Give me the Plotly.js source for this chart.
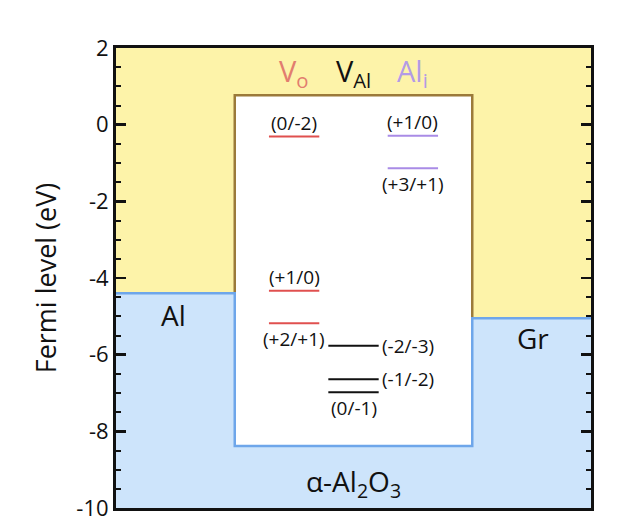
<!DOCTYPE html>
<html><head><meta charset="utf-8">
<script src="https://cdn.plot.ly/plotly-3.0.1.min.js"></script>
<style>html,body{margin:0;padding:0;background:#fff}#chart{width:620px;height:531px}</style>
</head><body><div id="chart"></div>
<script>
// ---- data (eV) ----
const yTickVals = [-10, -8, -6, -4, -2, 0, 2];
const alFermi = -4.40;      // Al metal Fermi level
const grFermi = -5.05;      // graphene Fermi level
const gapTop = 0.77;        // oxide conduction band edge
const gapBottom = -8.38;    // oxide valence band edge
const defectNames = ['V<sub>o</sub>', 'V<sub>Al</sub>', 'Al<sub>i</sub>'];
const voLevels = [-0.31, -4.33, -5.18];
const voLabels = ['(0/-2)', '(+1/0)', '(+2/+1)'];
const valLevels = [-5.77, -6.64, -6.98];
const valLabels = ['(-2/-3)', '(-1/-2)', '(0/-1)'];
const aliLevels = [-0.29, -1.14];
const aliLabels = ['(+1/0)', '(+3/+1)'];

// ---- layout helpers (positions/styles) ----
const X0 = 0, X1 = 10, BOXL = 2.5, BOXR = 7.5;
const colX = [3.75, 5.0, 6.25];
const halfW = 0.53;
const FONT = 'Open Sans, DejaVu Sans, sans-serif';
const defectColors = ['#e0504f', '#111111', '#a98be6'];
const headerColors = ['#e27d6f', '#111111', '#b39be6'];
const placement = [
  ['above', 'above', 'below'],
  ['right', 'right', 'below'],
  ['above', 'below']
];
const allLevels = [voLevels, valLevels, aliLevels];
const allLabels = [voLabels, valLabels, aliLabels];

const traces = [];
traces.push({ // metal / substrate region (blue)
  x: [X0, BOXL, BOXL, BOXR, BOXR, X1, X1, X0],
  y: [alFermi, alFermi, gapBottom, gapBottom, grFermi, grFermi, -10, -10],
  type: 'scatter', mode: 'lines', fill: 'toself', fillcolor: '#cde4fb',
  line: { width: 0 }, hoverinfo: 'skip', showlegend: false
});
traces.push({ // band gap (white)
  x: [BOXL, BOXR, BOXR, BOXL, BOXL],
  y: [gapTop, gapTop, gapBottom, gapBottom, gapTop],
  type: 'scatter', mode: 'lines', fill: 'toself', fillcolor: '#ffffff',
  line: { width: 0 }, hoverinfo: 'skip', showlegend: false
});
traces.push({ // brown border
  x: [BOXL, BOXL, BOXR, BOXR], y: [alFermi, gapTop, gapTop, grFermi],
  type: 'scatter', mode: 'lines', line: { color: '#9b7a3a', width: 2.5 },
  hoverinfo: 'skip', showlegend: false
});
traces.push({ // blue border
  x: [X0, BOXL, BOXL, BOXR, BOXR, X1], y: [alFermi, alFermi, gapBottom, gapBottom, grFermi, grFermi],
  type: 'scatter', mode: 'lines', line: { color: '#6ea6ea', width: 2.5 },
  hoverinfo: 'skip', showlegend: false
});

const annotations = [];
allLevels.forEach((levels, d) => {
  levels.forEach((v, i) => {
    traces.push({
      x: [colX[d] - halfW, colX[d] + halfW], y: [v, v],
      type: 'scatter', mode: 'lines', line: { color: defectColors[d], width: 2 },
      hoverinfo: 'skip', showlegend: false
    });
    const p = placement[d][i];
    const a = { text: allLabels[d][i], xref: 'x', yref: 'y', y: v, showarrow: false,
      font: { family: FONT, size: 19, color: '#111' } };
    if (p === 'above') { a.x = colX[d]; a.yanchor = 'bottom'; a.yshift = -1; }
    else if (p === 'below') { a.x = colX[d]; a.yanchor = 'top'; a.yshift = -1; }
    else { a.x = colX[d] + halfW; a.xanchor = 'left'; a.xshift = 1; a.yanchor = 'middle'; }
    annotations.push(a);
  });
});
defectNames.forEach((n, d) => {
  annotations.push({ text: n, x: colX[d], y: 1.35, xref: 'x', yref: 'y', showarrow: false,
    font: { family: FONT, size: 29, color: headerColors[d] } });
});
annotations.push({ text: 'Al', x: 1.2, y: -4.97, xref: 'x', yref: 'y', showarrow: false,
  font: { family: FONT, size: 28, color: '#111' } });
annotations.push({ text: 'Gr', x: 8.78, y: -5.57, xref: 'x', yref: 'y', showarrow: false,
  font: { family: FONT, size: 28, color: '#111' } });
annotations.push({ text: 'α-Al<sub>2</sub>O<sub>3</sub>', x: 5.0, y: -9.35, xref: 'x', yref: 'y', showarrow: false,
  font: { family: FONT, size: 28, color: '#111' } });

const layout = {
  width: 620, height: 531,
  margin: { l: 116, r: 29, t: 48, b: 23 },
  font: { family: FONT, size: 20, color: '#111' },
  paper_bgcolor: '#ffffff', plot_bgcolor: '#fdf3a9',
  showlegend: false,
  xaxis: { range: [X0, X1], showgrid: false, zeroline: false, showticklabels: false,
    ticks: '', showline: true, linecolor: '#111', linewidth: 3, mirror: true, fixedrange: true },
  yaxis: { range: [-10, 2], showgrid: false, zeroline: false,
    tickvals: yTickVals, ticktext: yTickVals.map(String),
    ticks: 'inside', ticklen: 10, tickwidth: 2.5, tickcolor: '#111',
    minor: { dtick: 0.5, ticks: 'inside', ticklen: 5, tickwidth: 2, tickcolor: '#111' },
    showline: true, linecolor: '#111', linewidth: 3, mirror: 'ticks',
    tickfont: { family: FONT, size: 22, color: '#111' },
    title: { text: 'Fermi level (eV)', font: { family: FONT, size: 27, color: '#111' }, standoff: 12 },
    automargin: false
  },
  annotations: annotations
};
Plotly.newPlot('chart', traces, layout, { displayModeBar: false, staticPlot: true });
</script>
</body></html>
